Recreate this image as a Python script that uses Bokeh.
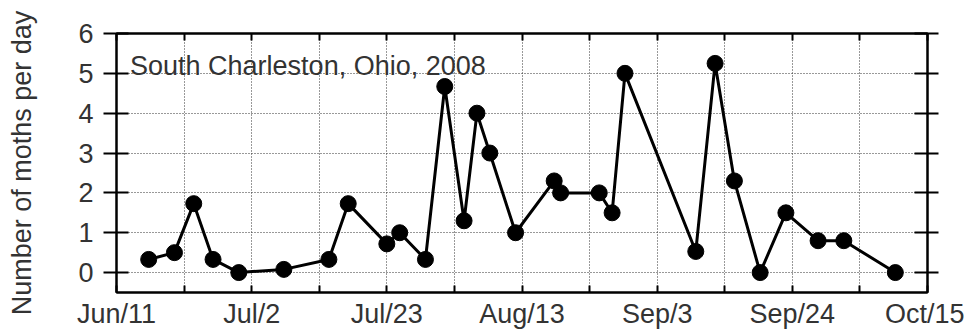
import pandas as pd
from bokeh.plotting import figure
from bokeh.models import Range1d, LinearAxis, FixedTicker, Label, ColumnDataSource
from bokeh.embed import file_html
from bokeh.resources import INLINE

# ---- data ----
start_date = "2008-06-11"
dates = ["2008-06-16", "2008-06-20", "2008-06-23", "2008-06-26", "2008-06-30",
         "2008-07-07", "2008-07-14", "2008-07-17", "2008-07-23", "2008-07-25",
         "2008-07-29", "2008-08-01", "2008-08-04", "2008-08-06", "2008-08-08",
         "2008-08-12", "2008-08-18", "2008-08-19", "2008-08-25", "2008-08-27",
         "2008-08-29", "2008-09-09", "2008-09-12", "2008-09-15", "2008-09-19",
         "2008-09-23", "2008-09-28", "2008-10-02", "2008-10-10"]
moths = [0.33, 0.5, 1.73, 0.33, 0.0,
         0.08, 0.33, 1.73, 0.72, 1.0,
         0.33, 4.67, 1.3, 4.0, 3.0,
         1.0, 2.3, 2.0, 2.0, 1.5,
         5.0, 0.53, 5.25, 2.3, 0.0,
         1.5, 0.8, 0.8, 0.0]
tick_dates = ["2008-06-11", "2008-07-02", "2008-07-23", "2008-08-13",
              "2008-09-03", "2008-09-24", "2008-10-15"]
tick_labels = ["Jun/11", "Jul/2", "Jul/23", "Aug/13", "Sep/3", "Sep/24", "Oct/15"]
y_ticks = [0, 1, 2, 3, 4, 5, 6]
title_text = "South Charleston, Ohio, 2008"
y_label = "Number of moths per day"

# ---- derived ----
start = pd.Timestamp(start_date)
x_days = [(pd.Timestamp(d) - start).days for d in dates]
tick_days = [(pd.Timestamp(d) - start).days for d in tick_dates]
minor_days = [(a + b) / 2 for a, b in zip(tick_days[:-1], tick_days[1:])]

FONT = "Liberation Sans"
TXT = "#333333"
FS = "27px"

p = figure(width=964, height=333, output_backend="svg", toolbar_location=None,
           x_range=Range1d(tick_days[0], tick_days[-1]), y_range=Range1d(-0.5, 6),
           min_border_left=116, min_border_right=37, min_border_top=33, min_border_bottom=41,
           background_fill_color="white", border_fill_color="white")

p.outline_line_color = "black"
p.outline_line_width = 2

# bottom x axis
xa = p.xaxis[0]
xa.ticker = FixedTicker(ticks=tick_days, minor_ticks=minor_days)
xa.major_label_overrides = {d: l for d, l in zip(tick_days, tick_labels)}
xa.major_tick_in = 7
xa.major_tick_out = 0
xa.minor_tick_in = 7
xa.minor_tick_out = 0
xa.major_label_standoff = 6
xa.major_label_text_font = FONT
xa.major_label_text_font_size = FS
xa.major_label_text_color = TXT

# top x axis (ticks only)
xt = LinearAxis(ticker=FixedTicker(ticks=tick_days, minor_ticks=minor_days),
                major_label_overrides={d: "" for d in tick_days},
                major_label_text_font_size="1px", major_label_standoff=0,
                major_tick_in=7, major_tick_out=0, minor_tick_in=7, minor_tick_out=0)
p.add_layout(xt, "above")

# left y axis
ya = p.yaxis[0]
ya.ticker = FixedTicker(ticks=y_ticks, minor_ticks=[])
ya.major_tick_in = 12
ya.major_tick_out = 13
ya.major_label_standoff = 10
ya.major_label_text_font = FONT
ya.major_label_text_font_size = FS
ya.major_label_text_color = TXT
ya.axis_label = y_label
ya.axis_label_text_font = FONT
ya.axis_label_text_font_size = FS
ya.axis_label_text_font_style = "normal"
ya.axis_label_text_color = TXT
ya.axis_label_standoff = 38

# right y axis (ticks only)
yr = LinearAxis(ticker=FixedTicker(ticks=y_ticks, minor_ticks=[]),
                major_label_overrides={t: "" for t in y_ticks},
                major_label_text_font_size="1px", major_label_standoff=0,
                major_tick_in=13, major_tick_out=11)
p.add_layout(yr, "right")

for ax in [xa, xt, ya, yr]:
    ax.axis_line_color = "black"
    ax.axis_line_width = 2
    ax.major_tick_line_color = "black"
    ax.major_tick_line_width = 2
    ax.minor_tick_line_color = "black"
    ax.minor_tick_line_width = 2

# grids
p.xgrid.ticker = FixedTicker(ticks=sorted(tick_days + minor_days))
p.ygrid.ticker = FixedTicker(ticks=y_ticks)
for g in [p.xgrid[0], p.ygrid[0]]:
    g.grid_line_color = "#333333"
    g.grid_line_width = 1
    g.grid_line_dash = "1 2"

src = ColumnDataSource(dict(x=x_days, y=moths))
p.line("x", "y", source=src, line_width=3, line_color="black")
p.scatter("x", "y", source=src, size=16, marker="circle", fill_color="black", line_color="black")

p.add_layout(Label(x=2.1, y=5.175, text=title_text, text_font=FONT, text_font_size=FS,
                   text_color=TXT, text_baseline="alphabetic", text_align="left"))

open("out.html", "w").write(file_html(p, INLINE))
